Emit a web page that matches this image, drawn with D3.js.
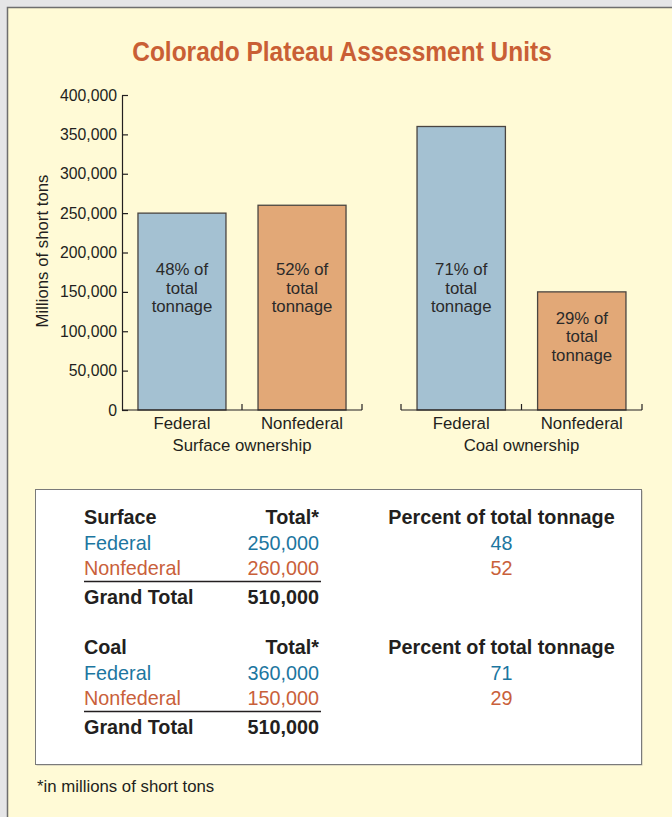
<!DOCTYPE html>
<html>
<head>
<meta charset="utf-8">
<script src="https://cdn.jsdelivr.net/npm/d3@7"></script>
<style>
  html, body { margin: 0; padding: 0; background: #e5e5e7; }
  svg { display: block; }
  text { font-family: "Liberation Sans", Arial, sans-serif; }
</style>
</head>
<body>
<svg id="chart" width="672" height="817"></svg>
<script>
// ---------------- data ----------------
const title = "Colorado Plateau Assessment Units";
const yAxisTitle = "Millions of short tons";
const yTicks = [0, 50000, 100000, 150000, 200000, 250000, 300000, 350000, 400000];
const categories = ["Federal", "Nonfederal"];
const groups = ["Surface ownership", "Coal ownership"];
const surfaceValues = [250000, 260000];
const coalValues = [360000, 150000];
const surfacePercents = [48, 52];
const coalPercents = [71, 29];
const tableSections = ["Surface", "Coal"];
const grandTotals = [510000, 510000];
const totalHeader = "Total*";
const percentHeader = "Percent of total tonnage";
const grandLabel = "Grand Total";
const footnote = "*in millions of short tons";

// ---------------- styles ----------------
const colBlueBar = "#a4c1d2", colOrangeBar = "#e2a877";
const colBlueTxt = "#1c76a0", colOrangeTxt = "#c9603a";
const barFill = [colBlueBar, colOrangeBar];
const txtFill = [colBlueTxt, colOrangeTxt];
const ink = "#231f20";

const svg = d3.select("#chart");

// panel
svg.append("rect").attr("x", 7).attr("y", 7).attr("width", 680).attr("height", 820)
  .attr("fill", "#fffad6");
svg.append("path").attr("d", "M7.5,817 V7.5 H672").attr("fill", "none")
  .attr("stroke", "#6e6e6e").attr("stroke-width", 1.5);

// title (condensed bold look)
svg.append("text").attr("transform", "translate(342,61) scale(0.875,1)").attr("text-anchor", "middle")
  .attr("fill", "#c95f35").attr("font-size", 28).attr("font-weight", "bold")
  .text(title);

// scales
const y = d3.scaleLinear().domain([0, 400000]).range([410, 95]);
const xSurface = d3.scaleBand().domain(categories).range([122, 362]).paddingInner(0.267).paddingOuter(0.133);
const xCoal = d3.scaleBand().domain(categories).range([401, 642]).paddingInner(0.267).paddingOuter(0.133);

// y axis
const yAxis = d3.axisLeft(y).tickValues(yTicks).tickSizeInner(-6).tickSizeOuter(0).tickPadding(5)
  .tickFormat(d3.format(","));
const ya = svg.append("g").attr("transform", "translate(122,0)").call(yAxis);
ya.select(".domain").attr("stroke", ink).attr("stroke-width", 1.2);
ya.selectAll(".tick line").attr("stroke", ink).attr("stroke-width", 1.2);
ya.selectAll(".tick text").attr("fill", ink).attr("font-size", 15.8)
  .style("font-family", '"Liberation Sans", Arial, sans-serif');

svg.append("text").attr("transform", "translate(48,251) rotate(-90)").attr("text-anchor", "middle")
  .attr("fill", ink).attr("font-size", 16.8).text(yAxisTitle);

// bar groups
function drawGroup(x, values, percents, groupName, leftTick) {
  const g = svg.append("g");
  const [r0, r1] = x.range();
  // bars
  g.selectAll("rect.bar").data(values).join("rect")
    .attr("x", (d, i) => x(categories[i]))
    .attr("y", d => y(d))
    .attr("width", x.bandwidth())
    .attr("height", d => y(0) - y(d))
    .attr("fill", (d, i) => barFill[i])
    .attr("stroke", "#4a4541").attr("stroke-width", 1.3);
  // baseline
  g.append("line").attr("x1", r0).attr("x2", r1).attr("y1", y(0)).attr("y2", y(0))
    .attr("stroke", ink).attr("stroke-width", 1.2);
  // boundary ticks
  const boundaries = [];
  if (leftTick) boundaries.push(r0);
  boundaries.push((x(categories[0]) + x.bandwidth() + x(categories[1])) / 2);
  boundaries.push(r1);
  g.selectAll("line.bt").data(boundaries).join("line")
    .attr("x1", d => d).attr("x2", d => d).attr("y1", y(0)).attr("y2", y(0) - 6)
    .attr("stroke", ink).attr("stroke-width", 1.2);
  // category labels
  g.selectAll("text.cat").data(categories).join("text")
    .attr("x", d => x(d) + x.bandwidth() / 2).attr("y", 429)
    .attr("text-anchor", "middle").attr("fill", ink).attr("font-size", 16.8).text(d => d);
  g.append("text").attr("x", (r0 + r1) / 2).attr("y", 451).attr("text-anchor", "middle")
    .attr("fill", ink).attr("font-size", 16.8).text(groupName);
  // in-bar labels
  values.forEach((v, i) => {
    const base = Math.max(275, y(v) + 32);
    const lines = [percents[i] + "% of", "total", "tonnage"];
    g.append("text").attr("x", x(categories[i]) + x.bandwidth() / 2).attr("text-anchor", "middle")
      .attr("fill", "#2a2a2a").attr("font-size", 16.8)
      .selectAll("tspan").data(lines).join("tspan")
      .attr("x", x(categories[i]) + x.bandwidth() / 2)
      .attr("y", (d, k) => base + k * 18.5).text(d => d);
  });
}
drawGroup(xSurface, surfaceValues, surfacePercents, groups[0], false);
drawGroup(xCoal, coalValues, coalPercents, groups[1], true);

// table box
svg.append("rect").attr("x", 36.5).attr("y", 490.5).attr("width", 606).attr("height", 275)
  .attr("fill", "#999").attr("opacity", 0.6);
svg.append("rect").attr("x", 35.5).attr("y", 489.5).attr("width", 606).attr("height", 275)
  .attr("fill", "#ffffff").attr("stroke", "#7a7a7a").attr("stroke-width", 1);

const fmt = d3.format(",");
const tableData = [
  { name: tableSections[0], vals: surfaceValues, pcts: surfacePercents, total: grandTotals[0] },
  { name: tableSections[1], vals: coalValues, pcts: coalPercents, total: grandTotals[1] }
];
const colLabel = 84, colTotal = 319, colPct = 501.5;
tableData.forEach((sec, s) => {
  const top = 524 + s * 130;
  const t = svg.append("g").attr("font-size", 19.8);
  t.append("text").attr("x", colLabel).attr("y", top).attr("font-weight", "bold").attr("fill", ink).text(sec.name);
  t.append("text").attr("x", colTotal).attr("y", top).attr("font-weight", "bold").attr("fill", ink)
    .attr("text-anchor", "end").text(totalHeader);
  t.append("text").attr("x", colPct).attr("y", top).attr("font-weight", "bold").attr("fill", ink)
    .attr("text-anchor", "middle").text(percentHeader);
  categories.forEach((c, i) => {
    const yy = top + 26 + i * 25;
    t.append("text").attr("x", colLabel).attr("y", yy).attr("fill", txtFill[i]).text(c);
    t.append("text").attr("x", colTotal).attr("y", yy).attr("fill", txtFill[i]).attr("text-anchor", "end").text(fmt(sec.vals[i]));
    t.append("text").attr("x", colPct).attr("y", yy).attr("fill", txtFill[i]).attr("text-anchor", "middle").text(sec.pcts[i]);
  });
  t.append("line").attr("x1", colLabel).attr("x2", colTotal + 2).attr("y1", top + 57.5).attr("y2", top + 57.5)
    .attr("stroke", ink).attr("stroke-width", 1.5);
  t.append("text").attr("x", colLabel).attr("y", top + 80).attr("font-weight", "bold").attr("fill", ink).text(grandLabel);
  t.append("text").attr("x", colTotal).attr("y", top + 80).attr("font-weight", "bold").attr("fill", ink)
    .attr("text-anchor", "end").text(fmt(sec.total));
});

svg.append("text").attr("x", 37).attr("y", 792).attr("fill", ink).attr("font-size", 16.8).text(footnote);
</script>
</body>
</html>
